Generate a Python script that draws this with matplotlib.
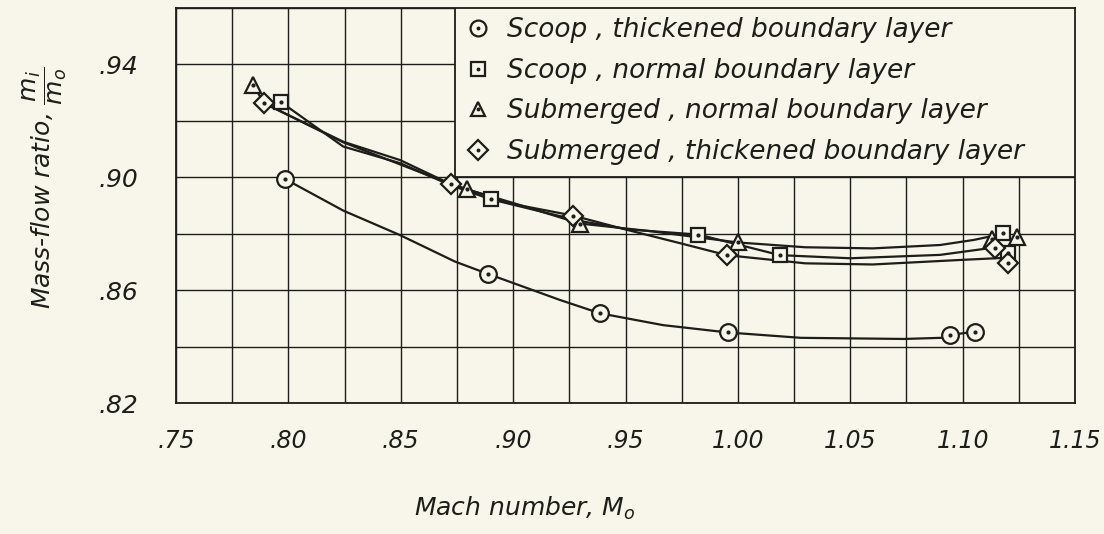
import matplotlib
matplotlib.use("Agg")
import matplotlib.pyplot as plt
from matplotlib.lines import Line2D
from matplotlib.patches import Rectangle
from matplotlib.legend_handler import HandlerTuple

# measured points (Mach number, mass-flow ratio)
scoop_thick_m = [0.7985, 0.889, 0.9386, 0.9955, 1.0944, 1.1056]
scoop_thick_v = [0.8994, 0.8657, 0.8518, 0.8452, 0.8441, 0.8453]
scoop_norm_m = [0.7966, 0.890, 0.9824, 1.0187, 1.118, 1.120]
scoop_norm_v = [0.9267, 0.8922, 0.8797, 0.8724, 0.8801, 0.8731]
sub_norm_m = [0.7843, 0.8796, 0.9298, 0.9999, 1.113, 1.124]
sub_norm_v = [0.9327, 0.8957, 0.8836, 0.8769, 0.8783, 0.8789]
sub_thick_m = [0.7893, 0.8722, 0.9268, 0.995, 1.1143, 1.120]
sub_thick_v = [0.9262, 0.8976, 0.8864, 0.8724, 0.8751, 0.8695]

# faired curves
scoop_thick_cm = [0.7985, 0.8244, 0.8497, 0.8742, 0.889, 0.9209, 0.9386, 0.9667, 0.9955, 1.028, 1.074, 1.0944]
scoop_thick_cv = [0.8994, 0.8882, 0.8795, 0.8701, 0.8657, 0.8565, 0.8518, 0.8476, 0.8450, 0.8431, 0.8427, 0.8432]
scoop_thick_end_m = [1.0944, 1.1056]
scoop_thick_end_v = [0.8441, 0.8453]
scoop_norm_cm = [0.7966, 0.8244, 0.8497, 0.8722, 0.890, 0.9298, 0.9515, 0.9824, 1.0187, 1.05, 1.09, 1.114]
scoop_norm_cv = [0.9267, 0.9109, 0.9050, 0.8972, 0.8922, 0.8845, 0.8815, 0.8797, 0.8724, 0.8713, 0.8725, 0.8751]
sub_norm_cm = [0.7843, 0.7893, 0.8244, 0.8497, 0.8722, 0.8796, 0.9, 0.9298, 0.96, 1.0, 1.03, 1.06, 1.09, 1.105, 1.118]
sub_norm_cv = [0.9327, 0.9262, 0.9126, 0.9061, 0.8976, 0.8957, 0.8909, 0.8836, 0.8810, 0.8769, 0.8752, 0.8748, 0.8760, 0.8778, 0.8800]
sub_thick_cm = [0.7893, 0.8244, 0.8722, 0.9, 0.9268, 0.95, 0.975, 0.995, 1.03, 1.06, 1.099, 1.12]
sub_thick_cv = [0.9262, 0.9124, 0.8976, 0.8905, 0.8864, 0.8815, 0.8765, 0.8724, 0.8695, 0.8691, 0.8707, 0.8715]

labels = ["Scoop , thickened boundary layer",
          "Scoop , normal boundary layer",
          "Submerged , normal boundary layer",
          "Submerged , thickened boundary layer"]
xticks = [0.75, 0.80, 0.85, 0.90, 0.95, 1.00, 1.05, 1.10, 1.15]
xticklabels = [".75", ".80", ".85", ".90", ".95", "1.00", "1.05", "1.10", "1.15"]
yticks = [0.82, 0.86, 0.90, 0.94]
yticklabels = [".82", ".86", ".90", ".94"]

bg = "#f8f6ea"
ink = "#1d1d19"
plt.rcParams["mathtext.fontset"] = "dejavusans"

fig = plt.figure(figsize=(11.04, 5.34), dpi=100, facecolor=bg)
ax = fig.add_axes([176/1104, 1-403/534, 899/1104, 395/534], facecolor=bg)
ax.set_xlim(0.75, 1.15)
ax.set_ylim(0.82, 0.96)

ax.set_xticks(xticks)
ax.set_xticklabels(xticklabels)
ax.set_xticks([0.775 + 0.05*i for i in range(8)], minor=True)
ax.set_yticks(yticks)
ax.set_yticklabels(yticklabels)
ax.set_yticks([0.84, 0.88, 0.92, 0.96], minor=True)
ax.grid(True, which="both", color=ink, lw=1.0)
ax.set_axisbelow(True)
ax.tick_params(which="both", length=0)
ax.tick_params(axis="x", pad=19, labelsize=17, labelcolor=ink)
ax.tick_params(axis="y", pad=27, labelsize=18, labelcolor=ink)
for t in ax.get_xticklabels() + ax.get_yticklabels():
    t.set_fontstyle("italic")
for s in ax.spines.values():
    s.set_color(ink)
    s.set_linewidth(1.3)

lw = 1.6
ax.plot(scoop_thick_cm, scoop_thick_cv, color=ink, lw=lw, zorder=3)
ax.plot(scoop_thick_end_m, scoop_thick_end_v, color=ink, lw=lw, zorder=3)
ax.plot(scoop_norm_cm, scoop_norm_cv, color=ink, lw=lw, zorder=3)
ax.plot(sub_norm_cm, sub_norm_cv, color=ink, lw=lw, zorder=3)
ax.plot(sub_thick_cm, sub_thick_cv, color=ink, lw=lw, zorder=3)

series = [(scoop_thick_m, scoop_thick_v, "o", 12),
          (scoop_norm_m, scoop_norm_v, "s", 10.5),
          (sub_norm_m, sub_norm_v, "^", 11),
          (sub_thick_m, sub_thick_v, "D", 10.5)]
handles = []
for m, v, mk, ms in series:
    ax.plot(m, v, ls="none", marker=mk, ms=ms, mfc=bg, mec=ink, mew=1.6, zorder=4)
    ax.plot(m, v, ls="none", marker="o", ms=2, color=ink, zorder=5)
    h1 = Line2D([], [], ls="none", marker=mk, ms=ms*0.95, mfc=bg, mec=ink, mew=1.6)
    h2 = Line2D([], [], ls="none", marker="o", ms=1.8, color=ink)
    handles.append((h1, h2))

# legend box covering the grid
ax.add_patch(Rectangle((0.8742, 0.9001), 1.15-0.8742, 0.96-0.9001, facecolor=bg,
                       edgecolor=ink, lw=1.3, zorder=6))
leg = ax.legend(handles, labels, handler_map={tuple: HandlerTuple(ndivide=1)},
                loc="upper left", bbox_to_anchor=(0.8742, 0.96), bbox_transform=ax.transData,
                frameon=False, fontsize=19, labelspacing=0.55, handlelength=1.0,
                handletextpad=0.6, borderpad=0.35, borderaxespad=0)
leg.set_zorder(7)
for t in leg.get_texts():
    t.set_fontstyle("italic")
    t.set_color(ink)

fig.text(45/1104, 1-188/534, r"Mass-flow ratio, $\dfrac{m_i}{m_o}$", rotation=90,
         ha="center", va="center", fontsize=18, fontstyle="italic", color=ink)
fig.text(525/1104, 1-508/534, r"Mach number, $M_o$", ha="center", va="center",
         fontsize=18, fontstyle="italic", color=ink)

fig.savefig("out.png", dpi=100, facecolor=bg)
